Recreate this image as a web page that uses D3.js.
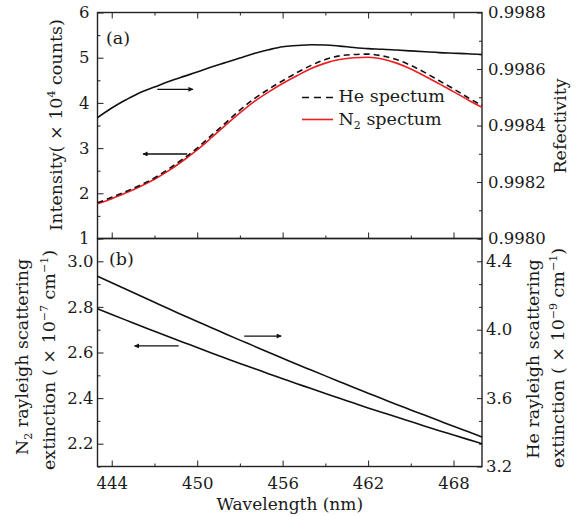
<!DOCTYPE html>
<html>
<head>
<meta charset="utf-8">
<script src="https://cdn.jsdelivr.net/npm/d3@7"></script>
<style>
  html, body { margin: 0; padding: 0; background: #fff; }
  svg { display: block; }
  text { font-family: "DejaVu Serif", serif; fill: #1a1a1a; }
</style>
</head>
<body>
<svg id="chart" width="576" height="516"></svg>
<script>
// Wavelength grid (nm)
const wavelengths = [443,444,445,446,447,448,449,450,451,452,453,454,455,456,
                     457,458,459,460,461,462,463,464,465,466,467,468,469,470];

// (a) spectra, x10^4 counts, and mirror reflectivity
const heSpectrum = [1.79,1.91,2.04,2.18,2.34,2.54,2.76,3.00,3.28,3.56,3.84,4.09,4.30,4.49,
                    4.67,4.83,4.96,5.04,5.07,5.08,5.04,4.96,4.83,4.67,4.49,4.31,4.12,3.94];
const n2Spectrum = [1.77,1.88,2.01,2.15,2.31,2.50,2.72,2.96,3.23,3.51,3.78,4.03,4.24,4.43,
                    4.60,4.76,4.88,4.96,5.00,5.01,4.97,4.88,4.75,4.59,4.42,4.25,4.07,3.90];
const reflectivity = [0.998428,0.998462,0.998491,0.998517,0.998536,0.998556,0.998573,0.998589,
                      0.998607,0.998623,0.998639,0.998655,0.998668,0.998679,0.998683,0.998686,
                      0.998685,0.998681,0.998676,0.998672,0.998670,0.998667,0.998664,0.998661,
                      0.998658,0.998656,0.998654,0.998651];

// (b) Rayleigh scattering extinction
const n2Extinction = [2.792,2.767,2.742,2.717,2.693,2.669,2.645,2.622,2.598,2.575,2.552,2.530,2.507,2.485,
                      2.463,2.442,2.420,2.399,2.378,2.357,2.337,2.317,2.297,2.277,2.257,2.238,2.219,2.200];
const heExtinction = [4.313,4.274,4.236,4.198,4.160,4.122,4.085,4.048,4.012,3.975,3.939,3.904,3.868,3.833,
                      3.798,3.764,3.730,3.696,3.662,3.629,3.596,3.563,3.531,3.499,3.467,3.435,3.404,3.373];

// Ticks
const xTicks = [444,450,456,462,468];
const xMinor = [447,453,459,465];
const intensityTicks = [1,2,3,4,5,6];
const intensityMinor = [1.5,2.5,3.5,4.5,5.5];
const reflTicks = [0.9980,0.9982,0.9984,0.9986,0.9988];
const reflMinor = [0.9981,0.9983,0.9985,0.9987];
const n2Ticks = [2.2,2.4,2.6,2.8,3.0];
const n2Minor = [2.1,2.3,2.5,2.7,2.9,3.1];
const heTicks = [3.2,3.6,4.0,4.4];
const heMinor = [3.3333,3.4667,3.7333,3.8667,4.1333,4.2667,4.5333];

// Arrow annotations: [x0, x1, y] in data units of the panel's left axis
const arrowsA = [[447.2, 449.7, 4.30], [449.3, 446.2, 2.87]];
const arrowsB = [[448.7, 445.6, 2.629], [453.3, 455.9, 2.672]];

const svg = d3.select("#chart");
const L = 97.5, R = 482, T = 12.5, M = 238.5, B = 466.5;
const red = "#ee1d24";
const tickFont = 16.5, labelFont = 17.5;

const x = d3.scaleLinear().domain([443, 470]).range([L, R]);
const yInt = d3.scaleLinear().domain([1, 6]).range([M, T]);
const yRef = d3.scaleLinear().domain([0.9980, 0.9988]).range([M, T]);
const yN2 = d3.scaleLinear().domain([2.1, 3.1]).range([B, M]);
const yHe = d3.scaleLinear().domain([3.2, 4.5333]).range([B, M]);

const defs = svg.append("defs");
defs.append("marker").attr("id", "arrowhead")
  .attr("viewBox", "0 0 10 10").attr("refX", 9).attr("refY", 5)
  .attr("markerWidth", 10).attr("markerHeight", 5).attr("markerUnits", "userSpaceOnUse")
  .attr("orient", "auto")
  .append("path").attr("d", "M0,0 L10,5 L0,10 Z").attr("fill", "#111");

function styleAxis(g) {
  g.select(".domain").remove();
  g.selectAll(".tick line").attr("stroke", "#333").attr("stroke-width", 1.1);
  g.selectAll(".tick text").attr("font-size", tickFont).attr("fill", "#1a1a1a")
    .attr("font-family", "DejaVu Serif, serif");
}

function addAxis(gen, tx, ty) {
  return svg.append("g").attr("transform", `translate(${tx},${ty})`).call(gen).call(styleAxis);
}

// ---------- x ticks (inward on every horizontal edge of the frames) ----------
addAxis(d3.axisTop(x).tickValues(xTicks).tickSize(-6).tickFormat(""), 0, T);
addAxis(d3.axisTop(x).tickValues(xMinor).tickSize(-3).tickFormat(""), 0, T);
addAxis(d3.axisBottom(x).tickValues(xTicks).tickSize(-6).tickFormat(""), 0, M);
addAxis(d3.axisBottom(x).tickValues(xMinor).tickSize(-3).tickFormat(""), 0, M);
addAxis(d3.axisBottom(x).tickValues(xTicks).tickSize(-6).tickFormat(d3.format("d")), 0, B)
  .selectAll(".tick text").attr("dy", "0").attr("y", 22.5);
addAxis(d3.axisBottom(x).tickValues(xMinor).tickSize(-3).tickFormat(""), 0, B);

// ---------- panel (a) y axes ----------
addAxis(d3.axisLeft(yInt).tickValues(intensityTicks).tickSize(-6).tickPadding(8).tickFormat(d3.format("d")), L, 0);
addAxis(d3.axisLeft(yInt).tickValues(intensityMinor).tickSize(-3).tickFormat(""), L, 0);
addAxis(d3.axisRight(yRef).tickValues(reflTicks).tickSize(-5).tickPadding(6).tickFormat(d3.format(".4f")), R, 0);
addAxis(d3.axisRight(yRef).tickValues(reflMinor).tickSize(-3).tickFormat(""), R, 0);

// ---------- panel (b) y axes ----------
addAxis(d3.axisLeft(yN2).tickValues(n2Ticks).tickSize(-6).tickPadding(4).tickFormat(d3.format(".1f")), L, 0);
addAxis(d3.axisLeft(yN2).tickValues(n2Minor).tickSize(-3).tickFormat(""), L, 0);
addAxis(d3.axisRight(yHe).tickValues(heTicks).tickSize(-5).tickPadding(4).tickFormat(d3.format(".1f")), R, 0);
addAxis(d3.axisRight(yHe).tickValues(heMinor).tickSize(-3).tickFormat(""), R, 0);

// ---------- frames ----------
svg.append("rect").attr("x", L).attr("y", T).attr("width", R - L).attr("height", M - T)
  .attr("fill", "none").attr("stroke", "#222").attr("stroke-width", 1.4);
svg.append("rect").attr("x", L).attr("y", M).attr("width", R - L).attr("height", B - M)
  .attr("fill", "none").attr("stroke", "#222").attr("stroke-width", 1.4);

// ---------- curves ----------
function drawLine(values, yScale, color, dash) {
  const line = d3.line().x((d, i) => x(wavelengths[i])).y(d => yScale(d)).curve(d3.curveMonotoneX);
  svg.append("path").datum(values).attr("d", line)
    .attr("fill", "none").attr("stroke", color).attr("stroke-width", 1.6)
    .attr("stroke-dasharray", dash || null);
}
drawLine(reflectivity, yRef, "#111");
drawLine(n2Spectrum, yInt, red);
drawLine(heSpectrum, yInt, "#111", "6,4");
drawLine(n2Extinction, yN2, "#111");
drawLine(heExtinction, yHe, "#111");

// ---------- arrows ----------
function drawArrows(list, yScale) {
  list.forEach(([x0, x1, yv]) => {
    svg.append("line")
      .attr("x1", x(x0)).attr("x2", x(x1)).attr("y1", yScale(yv)).attr("y2", yScale(yv))
      .attr("stroke", "#111").attr("stroke-width", 1.4).attr("marker-end", "url(#arrowhead)");
  });
}
drawArrows(arrowsA, yInt);
drawArrows(arrowsB, yN2);

// ---------- legend ----------
const legend = [
  { name: "He", color: "#111", dash: "7,5", y: 97.5, ty: 102 },
  { name: "N", sub: "2", color: red, dash: null, y: 119.5, ty: 124.5 }
];
legend.forEach(d => {
  svg.append("line").attr("x1", 302).attr("x2", 333).attr("y1", d.y).attr("y2", d.y)
    .attr("stroke", d.color).attr("stroke-width", 1.6).attr("stroke-dasharray", d.dash);
  const t = svg.append("text").attr("x", 338.5).attr("y", d.ty).attr("font-size", labelFont);
  t.append("tspan").text(d.name);
  if (d.sub) {
    t.append("tspan").attr("font-size", 11).attr("dy", 4).text(d.sub);
    t.append("tspan").attr("dy", -4).text(" spectum");
  } else {
    t.append("tspan").text(" spectum");
  }
});

// ---------- panel tags ----------
svg.append("text").attr("x", 106).attr("y", 43.5).attr("font-size", labelFont).text("(a)");
svg.append("text").attr("x", 109).attr("y", 264.5).attr("font-size", labelFont).text("(b)");

// ---------- axis titles ----------
svg.append("text").attr("x", (L + R) / 2).attr("y", 509.5).attr("text-anchor", "middle")
  .attr("font-size", 17).text("Wavelength (nm)");

function rotLabel(cx, cy, parts) {
  const t = svg.append("text").attr("transform", `translate(${cx},${cy}) rotate(-90)`)
    .attr("text-anchor", "middle").attr("font-size", labelFont);
  parts.forEach(p => {
    const s = t.append("tspan").text(p.t);
    if (p.sup) s.attr("font-size", 11).attr("dy", -7);
    if (p.sub) s.attr("font-size", 11).attr("dy", 4);
    if (p.back) s.attr("dy", p.back);
  });
  return t;
}

rotLabel(62, 125, [
  { t: "Intensity( × 10" }, { t: "4", sup: true }, { t: " counts)", back: 7 }
]);
rotLabel(566, 126, [{ t: "Refectivity" }]);

rotLabel(28, 357, [
  { t: "N" }, { t: "2", sub: true }, { t: " rayleigh scattering", back: -4 }
]);
rotLabel(55, 360, [
  { t: "extinction ( × 10" }, { t: "−7", sup: true }, { t: " cm", back: 7 },
  { t: "−1", sup: true }, { t: ")", back: 7 }
]);

rotLabel(538.5, 359, [{ t: "He rayleigh scattering" }]);
rotLabel(563.5, 358, [
  { t: "extinction ( × 10" }, { t: "−9", sup: true }, { t: " cm", back: 7 },
  { t: "−1", sup: true }, { t: ")", back: 7 }
]);
</script>
</body>
</html>
